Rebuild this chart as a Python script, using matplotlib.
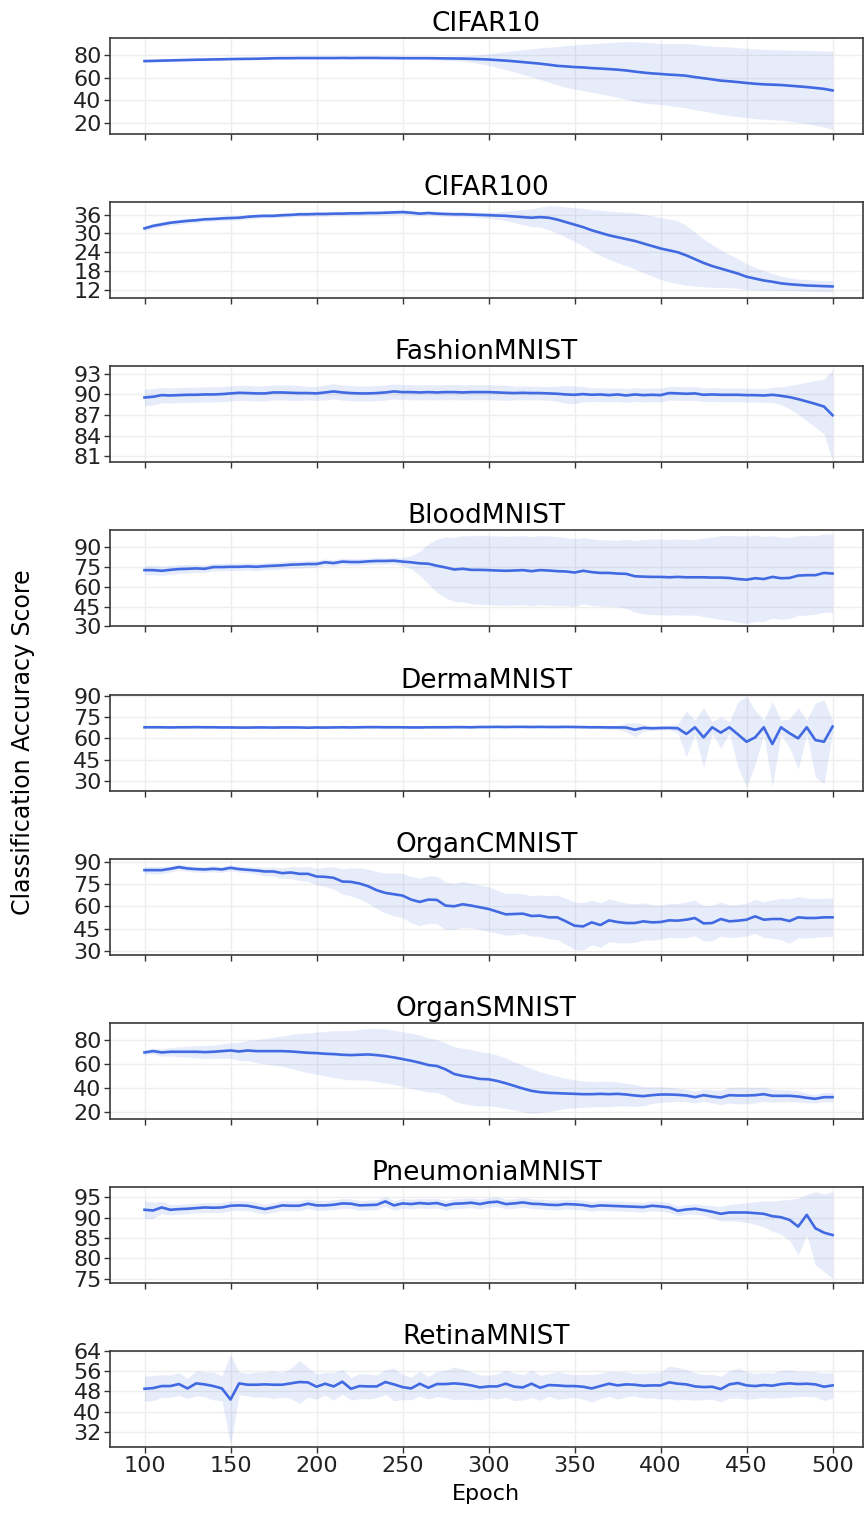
import numpy as np
import matplotlib
matplotlib.use('Agg')
import matplotlib.pyplot as plt

epochs = list(range(100, 505, 5))

names = ['CIFAR10', 'CIFAR100', 'FashionMNIST', 'BloodMNIST', 'DermaMNIST',
         'OrganCMNIST', 'OrganSMNIST', 'PneumoniaMNIST', 'RetinaMNIST']

# mean accuracy per epoch (every 5 epochs, 100..500)
cifar10_mean = [74.8, 75.0, 75.2, 75.4, 75.6, 75.8, 76.0, 76.1, 76.3, 76.4,
                76.6, 76.7, 76.8, 76.9, 77.1, 77.3, 77.4, 77.4, 77.5, 77.5,
                77.5, 77.5, 77.5, 77.6, 77.5, 77.6, 77.6, 77.6, 77.5, 77.5,
                77.4, 77.4, 77.4, 77.4, 77.3, 77.2, 77.1, 77.0, 76.8, 76.5,
                76.2, 75.7, 75.2, 74.6, 73.9, 73.2, 72.5, 71.6, 70.6, 70.1,
                69.5, 69.2, 68.6, 68.2, 67.7, 67.2, 66.5, 65.5, 64.6, 63.9,
                63.4, 62.8, 62.4, 61.8, 60.6, 59.6, 58.6, 57.5, 56.9, 56.2,
                55.4, 54.7, 54.2, 53.9, 53.6, 53.0, 52.4, 51.8, 51.0, 50.2,
                48.8]
cifar10_std = [1.0, 1.0, 0.9, 0.9, 0.9, 0.8, 0.8, 0.8, 0.8, 0.8,
               0.8, 0.8, 0.8, 0.8, 0.8, 0.8, 0.8, 0.8, 0.8, 0.8,
               0.8, 0.8, 0.8, 0.8, 0.8, 0.8, 0.9, 0.9, 0.9, 1.0,
               1.0, 1.1, 1.2, 1.3, 1.5, 1.7, 2.0, 2.4, 3.0, 4.0,
               5.0, 6.5, 8.0, 9.5, 11.0, 12.5, 14.0, 15.5, 17.0, 18.5,
               19.5, 20.5, 21.5, 22.5, 23.5, 24.5, 25.5, 26.5, 27.0, 27.0,
               27.0, 27.5, 28.0, 28.5, 29.0, 29.0, 29.5, 30.0, 30.5, 30.5,
               30.7, 31.0, 31.0, 31.0, 31.2, 31.5, 32.0, 32.5, 33.0, 33.8,
               34.6]

cifar100_mean = [31.6, 32.4, 32.9, 33.4, 33.7, 34.0, 34.2, 34.5, 34.6, 34.8,
                 34.9, 35.0, 35.3, 35.5, 35.6, 35.6, 35.8, 35.9, 36.1, 36.1,
                 36.2, 36.2, 36.3, 36.3, 36.4, 36.4, 36.5, 36.5, 36.6, 36.7,
                 36.8, 36.6, 36.3, 36.5, 36.3, 36.2, 36.1, 36.1, 36.0, 35.9,
                 35.8, 35.7, 35.6, 35.4, 35.2, 35.0, 35.2, 35.0, 34.4, 33.6,
                 32.8, 32.0, 31.0, 30.2, 29.4, 28.8, 28.2, 27.6, 26.8, 26.0,
                 25.2, 24.6, 24.0, 23.0, 21.8, 20.6, 19.6, 18.8, 18.0, 17.2,
                 16.2, 15.6, 15.0, 14.6, 14.1, 13.8, 13.6, 13.4, 13.3, 13.2,
                 13.1]
cifar100_std = [0.8, 0.8, 0.8, 0.8, 0.8, 0.8, 0.7, 0.7, 0.7, 0.7,
                0.7, 0.7, 0.7, 0.7, 0.7, 0.7, 0.7, 0.7, 0.7, 0.7,
                0.7, 0.7, 0.7, 0.7, 0.7, 0.7, 0.7, 0.7, 0.7, 0.7,
                0.7, 0.7, 0.7, 0.7, 0.7, 0.7, 0.7, 0.8, 0.8, 0.9,
                1.0, 1.2, 1.5, 2.0, 2.4, 2.8, 3.2, 3.8, 4.3, 4.8,
                5.4, 6.0, 6.6, 7.2, 7.7, 8.1, 8.5, 8.9, 9.3, 9.6,
                9.9, 10.0, 10.0, 9.5, 8.6, 7.6, 6.8, 6.0, 5.3, 4.7,
                4.1, 3.6, 3.1, 2.7, 2.3, 2.0, 1.9, 1.9, 1.8, 1.8,
                1.8]

fashion_mean = [89.56, 89.66, 89.90, 89.85, 89.90, 89.95, 89.95, 90.00, 90.00, 90.05,
                90.15, 90.24, 90.20, 90.15, 90.15, 90.29, 90.29, 90.24, 90.20, 90.20,
                90.15, 90.29, 90.44, 90.29, 90.20, 90.15, 90.15, 90.20, 90.29, 90.44,
                90.34, 90.34, 90.29, 90.34, 90.29, 90.34, 90.34, 90.29, 90.34, 90.34,
                90.34, 90.29, 90.24, 90.20, 90.24, 90.20, 90.20, 90.15, 90.10, 90.00,
                89.95, 90.05, 89.95, 90.00, 89.90, 90.00, 89.85, 90.00, 89.90, 89.95,
                89.90, 90.20, 90.15, 90.10, 90.15, 89.95, 90.00, 89.95, 89.95, 89.95,
                89.90, 89.90, 89.85, 89.95, 89.80, 89.61, 89.32, 88.98, 88.63, 88.24,
                86.98]
fashion_std = [1.2, 1.2, 1.1, 1.1, 1.1, 1.1, 1.1, 1.1, 1.1, 1.1,
               1.1, 1.1, 1.1, 1.1, 1.1, 1.1, 1.1, 1.1, 1.1, 1.0,
               1.0, 1.1, 1.1, 1.1, 1.1, 1.1, 1.1, 1.1, 1.1, 1.1,
               1.1, 1.1, 1.1, 1.1, 1.1, 1.1, 1.1, 1.1, 1.1, 1.1,
               1.1, 1.1, 1.1, 1.0, 1.0, 1.0, 1.0, 1.0, 1.1, 1.3,
               1.3, 1.1, 1.0, 1.0, 1.0, 1.0, 1.0, 1.0, 1.0, 1.0,
               1.0, 1.0, 1.0, 1.0, 1.0, 1.0, 1.0, 1.0, 1.0, 1.0,
               1.0, 1.0, 1.0, 1.1, 1.3, 1.7, 2.2, 2.8, 3.4, 4.0,
               6.6]

blood_mean = [72.4, 72.4, 71.9, 72.6, 73.2, 73.4, 73.7, 73.4, 74.7, 74.7,
              74.9, 74.9, 75.2, 74.9, 75.4, 75.7, 76.0, 76.5, 76.7, 77.0,
              77.0, 78.3, 77.7, 78.8, 78.5, 78.5, 79.0, 79.3, 79.3, 79.5,
              78.8, 78.3, 77.5, 77.2, 75.7, 74.4, 72.9, 73.4, 72.6, 72.6,
              72.4, 72.1, 71.9, 72.1, 72.4, 71.6, 72.4, 72.1, 71.6, 71.4,
              70.6, 71.9, 70.9, 70.3, 70.3, 69.8, 69.6, 67.8, 67.5, 67.3,
              67.3, 67.0, 67.3, 67.0, 67.0, 67.0, 66.8, 66.8, 66.5, 65.7,
              65.2, 66.3, 65.7, 67.3, 66.3, 66.5, 68.3, 68.6, 68.6, 70.3,
              69.8]
blood_std = [3.5, 3.5, 3.5, 3.4, 3.3, 3.2, 3.0, 2.8, 2.8, 2.8,
             2.8, 2.8, 2.8, 2.8, 2.8, 2.8, 2.8, 2.8, 2.8, 2.8,
             2.5, 2.5, 2.5, 2.5, 2.5, 2.5, 2.5, 2.5, 2.5, 2.5,
             3.0, 5.0, 9.0, 15.0, 20.0, 23.0, 24.0, 25.0, 25.5, 26.0,
             26.0, 26.0, 26.0, 26.0, 26.0, 26.0, 26.0, 26.0, 26.0, 25.5,
             25.5, 25.0, 25.0, 25.0, 25.0, 25.0, 26.0, 27.0, 28.0, 28.5,
             28.5, 28.5, 28.5, 28.5, 28.5, 29.5, 30.5, 31.5, 32.0, 32.5,
             33.0, 32.5, 32.0, 31.0, 31.0, 30.5, 30.0, 30.0, 29.5, 29.5,
             29.5]

derma_mean = [67.7, 67.7, 67.7, 67.6, 67.7, 67.7, 67.8, 67.7, 67.7, 67.6,
              67.6, 67.5, 67.5, 67.6, 67.6, 67.5, 67.6, 67.6, 67.6, 67.4,
              67.6, 67.5, 67.6, 67.7, 67.6, 67.7, 67.8, 67.8, 67.7, 67.7,
              67.7, 67.6, 67.6, 67.7, 67.7, 67.7, 67.8, 67.8, 67.7, 67.9,
              67.9, 68.0, 67.9, 68.0, 68.0, 67.9, 68.0, 67.9, 67.9, 68.0,
              67.9, 67.8, 67.7, 67.7, 67.6, 67.6, 67.5, 66.0, 67.3, 67.0,
              67.2, 67.3, 67.0, 63.0, 67.7, 60.6, 67.7, 63.9, 67.7, 62.7,
              57.5, 60.6, 67.7, 55.9, 67.7, 63.5, 59.9, 67.7, 58.7, 57.5,
              68.2]
derma_std = [0.6, 0.6, 0.6, 0.6, 0.6, 0.6, 0.6, 0.6, 0.6, 0.6,
             0.6, 0.6, 0.6, 0.6, 0.6, 0.6, 0.6, 0.6, 0.6, 0.6,
             0.6, 0.6, 0.6, 0.6, 0.6, 0.6, 0.7, 0.8, 0.7, 0.6,
             0.6, 0.6, 0.6, 0.6, 0.6, 0.6, 0.6, 0.6, 0.6, 0.6,
             0.6, 0.6, 0.6, 0.6, 0.6, 0.6, 0.6, 0.6, 0.7, 0.7,
             0.7, 0.7, 0.8, 0.9, 1.2, 1.5, 3.0, 5.0, 2.5, 1.5,
             1.5, 1.5, 3.0, 16.0, 5.0, 21.0, 4.0, 11.0, 4.0, 23.0,
             32.0, 19.0, 5.0, 30.0, 5.0, 10.0, 21.5, 5.0, 26.0, 29.6,
             4.0]

organc_mean = [84.36, 84.36, 84.36, 85.26, 86.39, 85.49, 85.04, 84.81, 85.26, 84.81,
               85.94, 85.04, 84.59, 84.13, 83.46, 83.46, 82.33, 82.78, 81.88, 81.88,
               80.07, 79.85, 79.17, 76.69, 76.47, 75.34, 73.53, 70.83, 69.02, 68.12,
               67.22, 64.51, 62.93, 64.51, 64.28, 60.45, 60.00, 61.35, 60.45, 59.32,
               58.19, 56.39, 54.58, 54.81, 55.04, 53.46, 53.68, 52.55, 52.55, 49.85,
               46.91, 46.46, 49.17, 47.36, 50.52, 49.40, 48.72, 48.72, 49.85, 49.17,
               49.40, 50.52, 50.30, 50.98, 52.10, 48.49, 48.72, 51.43, 49.85, 50.30,
               50.98, 53.23, 50.98, 51.43, 51.43, 50.07, 52.55, 52.10, 52.10, 52.55,
               52.55]
organc_std = [2.5, 2.5, 2.5, 2.0, 2.0, 2.0, 2.0, 2.0, 2.0, 2.0,
              2.0, 2.0, 2.0, 2.5, 3.0, 3.0, 3.5, 4.0, 4.5, 5.0,
              5.5, 6.5, 7.5, 8.5, 9.5, 10.5, 11.5, 12.5, 13.5, 14.5,
              15.0, 15.5, 16.0, 16.0, 16.0, 16.0, 15.5, 15.5, 15.0, 15.0,
              15.0, 14.5, 14.0, 14.0, 13.5, 13.5, 14.0, 14.5, 15.0, 15.5,
              16.0, 16.0, 15.0, 15.0, 14.5, 14.0, 13.5, 13.0, 12.5, 12.0,
              11.5, 11.5, 11.5, 12.0, 12.0, 12.0, 12.0, 11.5, 11.0, 11.0,
              11.0, 11.5, 12.0, 13.0, 14.0, 15.0, 14.0, 13.5, 13.0, 13.0,
              13.0]

organs_mean = [69.82, 70.92, 69.82, 70.37, 70.37, 70.37, 70.37, 70.09, 70.37, 70.92,
               71.47, 70.64, 71.47, 70.92, 70.92, 70.92, 70.92, 70.64, 70.09, 69.54,
               69.27, 68.71, 68.44, 67.89, 67.61, 67.89, 68.16, 67.61, 66.79, 65.69,
               64.31, 62.93, 61.28, 59.36, 58.53, 55.78, 51.92, 50.27, 49.17, 47.80,
               47.52, 46.14, 44.22, 42.01, 39.81, 37.89, 36.79, 36.24, 35.96, 35.68,
               35.41, 35.13, 35.13, 35.41, 35.13, 35.41, 34.86, 34.03, 33.48, 34.31,
               34.86, 34.86, 34.58, 34.03, 32.66, 34.31, 33.21, 32.38, 34.31, 34.03,
               34.03, 34.31, 35.13, 33.76, 33.76, 33.76, 33.21, 32.11, 31.28, 32.66,
               32.66]
organs_std = [2.0, 2.5, 3.0, 3.5, 4.0, 4.5, 5.0, 5.5, 5.5, 6.0,
              6.5, 7.5, 8.5, 9.5, 10.5, 11.5, 12.5, 14.0, 15.5, 16.5,
              17.5, 18.5, 19.5, 20.0, 20.5, 21.0, 21.5, 22.0, 22.5, 22.5,
              22.7, 23.0, 23.0, 22.5, 22.0, 22.0, 22.5, 23.0, 23.0, 22.5,
              22.0, 21.5, 21.0, 20.0, 19.5, 18.6, 17.0, 15.5, 14.0, 12.5,
              11.6, 11.0, 10.5, 10.5, 10.5, 10.0, 9.5, 9.0, 8.0, 7.0,
              6.6, 6.0, 5.5, 5.0, 5.0, 5.0, 5.5, 6.0, 6.5, 7.0,
              7.0, 6.5, 6.0, 5.5, 5.0, 5.0, 4.5, 4.0, 3.5, 4.0,
              4.0]

pneumonia_mean = [91.94, 91.78, 92.52, 91.94, 92.11, 92.19, 92.36, 92.52, 92.44, 92.52,
                  92.93, 93.02, 92.93, 92.52, 92.11, 92.52, 93.02, 92.93, 92.93, 93.43,
                  93.02, 93.02, 93.18, 93.51, 93.43, 93.02, 93.10, 93.18, 94.01, 93.02,
                  93.51, 93.35, 93.60, 93.43, 93.60, 93.02, 93.43, 93.51, 93.68, 93.35,
                  93.76, 93.93, 93.35, 93.51, 93.76, 93.43, 93.35, 93.18, 93.10, 93.35,
                  93.26, 93.10, 92.77, 93.02, 92.93, 92.85, 92.77, 92.69, 92.60, 92.93,
                  92.77, 92.52, 91.69, 92.02, 92.19, 91.86, 91.45, 90.95, 91.28, 91.28,
                  91.28, 91.12, 90.95, 90.37, 90.12, 89.46, 87.81, 90.70, 87.40, 86.32,
                  85.74]
pneumonia_std = [2.2, 2.0, 1.5, 1.3, 1.2, 1.2, 1.2, 1.2, 1.2, 1.2,
                 1.2, 1.2, 1.2, 1.2, 1.2, 1.2, 1.2, 1.2, 1.2, 1.2,
                 1.2, 1.2, 1.2, 1.2, 1.2, 1.2, 1.2, 1.2, 1.2, 1.2,
                 1.2, 1.2, 1.2, 1.2, 1.2, 1.2, 1.2, 1.2, 1.2, 1.2,
                 1.2, 1.2, 1.2, 1.2, 1.2, 1.2, 1.2, 1.2, 1.2, 1.2,
                 1.2, 1.2, 1.2, 1.2, 1.2, 1.2, 1.2, 1.2, 1.2, 1.2,
                 1.2, 1.2, 1.2, 1.2, 1.3, 1.3, 1.5, 1.8, 2.0, 2.2,
                 2.4, 2.8, 3.2, 3.7, 4.2, 5.0, 7.0, 5.0, 9.0, 9.5,
                 10.7]

retina_mean = [49.08, 49.35, 50.16, 50.16, 50.96, 49.21, 51.23, 50.83, 50.16, 49.21,
               44.78, 51.23, 50.69, 50.69, 50.83, 50.69, 50.69, 51.23, 51.77, 51.63,
               49.89, 51.10, 50.02, 51.90, 49.08, 50.16, 50.02, 50.02, 51.77, 50.83,
               49.75, 49.21, 51.10, 49.48, 50.96, 50.96, 51.23, 50.96, 50.42, 49.62,
               50.02, 50.02, 51.10, 49.89, 49.62, 51.10, 49.48, 50.56, 50.42, 50.16,
               50.16, 49.89, 49.21, 50.16, 51.10, 50.42, 50.83, 50.69, 50.29, 50.42,
               50.42, 51.63, 51.10, 50.83, 50.02, 49.75, 49.89, 48.95, 50.83, 51.37,
               50.42, 50.16, 50.56, 50.29, 50.96, 51.23, 50.96, 51.10, 50.83, 49.89,
               50.42]
retina_std = [5.0, 5.0, 4.5, 4.5, 4.5, 4.0, 5.0, 5.0, 5.5, 5.0,
              18.0, 4.5, 4.5, 5.0, 5.0, 5.5, 5.0, 6.0, 8.5, 6.0,
              5.0, 4.5, 5.5, 5.0, 4.5, 5.0, 5.0, 4.5, 5.0, 6.5,
              5.0, 4.5, 5.0, 4.5, 5.0, 5.5, 6.5, 6.0, 5.5, 5.0,
              4.5, 5.0, 5.5, 5.5, 5.0, 5.5, 5.0, 4.5, 5.5, 5.0,
              4.5, 5.0, 5.5, 5.0, 5.0, 5.5, 5.0, 4.5, 5.0, 5.0,
              5.5, 6.5, 6.5, 6.0, 5.5, 5.0, 5.0, 5.0, 5.5, 6.0,
              5.5, 5.0, 5.0, 5.0, 5.5, 5.5, 5.0, 5.0, 5.0, 5.5,
              5.0]

means = [cifar10_mean, cifar100_mean, fashion_mean, blood_mean, derma_mean,
         organc_mean, organs_mean, pneumonia_mean, retina_mean]
stds = [cifar10_std, cifar100_std, fashion_std, blood_std, derma_std,
        organc_std, organs_std, pneumonia_std, retina_std]

yticks = [[20, 40, 60, 80], [12, 18, 24, 30, 36], [81, 84, 87, 90, 93],
          [30, 45, 60, 75, 90], [30, 45, 60, 75, 90], [30, 45, 60, 75, 90],
          [20, 40, 60, 80], [75, 80, 85, 90, 95], [32, 40, 48, 56, 64]]
ylims = [(10.3, 95.4), (9.4, 40.0), (80.15, 94.1), (30.0, 102.3), (23.1, 90.7),
         (27.3, 92.0), (14.5, 94.3), (73.9, 97.5), (25.7, 64.0)]

color = '#4169e1'

fig, axes = plt.subplots(9, 1, figsize=(8.67, 15.14), dpi=100, sharex=True)
plt.subplots_adjust(left=0.127, right=0.995, top=0.975, bottom=0.044, hspace=0.71)

for i, ax in enumerate(axes):
    m = np.array(means[i])
    s = np.array(stds[i])
    ax.fill_between(epochs, m - s, m + s, color=color, alpha=0.12, linewidth=0)
    ax.plot(epochs, m, color=color, linewidth=1.9)
    ax.set_title(names[i], fontsize=19, pad=5)
    ax.set_ylim(ylims[i])
    ax.set_yticks(yticks[i])
    ax.set_xlim(80, 517.5)
    ax.set_xticks(range(100, 501, 50))
    ax.grid(True, color='#eeeeee', linewidth=1)
    ax.set_axisbelow(True)
    ax.tick_params(axis='both', labelsize=16, direction='out', length=4.5,
                   width=1, color='#333333', labelcolor='#222222', pad=1.5)
    for sp in ax.spines.values():
        sp.set_color('#3a3a3a')
        sp.set_linewidth(1.2)

axes[-1].set_xlabel('Epoch', fontsize=16, labelpad=6)
fig.text(0.027, 0.51, 'Classification Accuracy Score', rotation=90,
         va='center', ha='center', fontsize=17)

plt.savefig('out.png')
